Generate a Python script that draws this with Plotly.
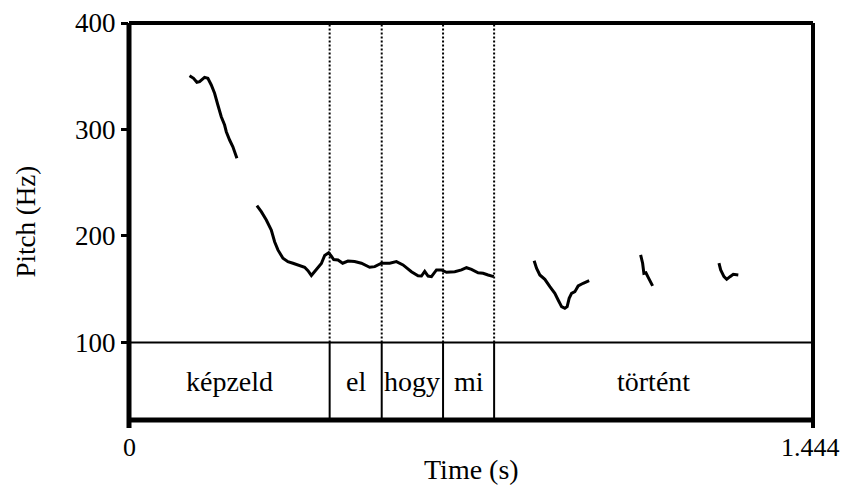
import plotly.graph_objects as go

# ---- pitch contour (time in s, pitch in Hz) ----
seg1_t = [0.1278, 0.1363, 0.1433, 0.1490, 0.1595, 0.1665, 0.1737, 0.1807, 0.1876, 0.1948, 0.2018, 0.2054, 0.2124, 0.2193, 0.2278]
seg1_f = [350.5, 348.1, 344.3, 344.9, 349.0, 348.1, 341.8, 334.0, 323.0, 312.0, 304.2, 297.9, 290.1, 283.8, 272.9]

seg2_t = [0.2700, 0.2793, 0.2899, 0.3004, 0.3074, 0.3144, 0.3250, 0.3355, 0.3461, 0.3602, 0.3708, 0.3778,
          0.3850, 0.3955, 0.4061, 0.4131, 0.4215, 0.4268, 0.4321, 0.4412, 0.4511, 0.4623, 0.4764, 0.4906,
          0.4997, 0.5081, 0.5187, 0.5329, 0.5504, 0.5645, 0.5785, 0.5962, 0.6102, 0.6174, 0.6243, 0.6313,
          0.6385, 0.6491, 0.6596, 0.6702, 0.6877, 0.7019, 0.7125, 0.7230, 0.7370, 0.7475, 0.7581, 0.7701]
seg2_f = [228.5, 222.8, 215.0, 205.6, 194.6, 186.9, 179.1, 175.9, 174.4, 171.8, 170.6, 167.4,
          162.9, 168.5, 174.2, 181.7, 184.3, 181.2, 177.9, 177.5, 174.4, 176.5, 176.1, 174.4,
          172.3, 170.6, 171.2, 174.4, 174.4, 175.9, 172.8, 166.5, 162.7, 162.4, 166.7, 162.4,
          161.8, 168.1, 168.1, 165.9, 166.5, 168.1, 170.2, 168.7, 165.5, 165.0, 163.4, 161.8]

seg3_t = [0.8553, 0.8603, 0.8673, 0.8779, 0.8885, 0.8990, 0.9060, 0.9132, 0.9201, 0.9250, 0.9292, 0.9343, 0.9413, 0.9482, 0.9588, 0.9715]
seg3_f = [176.8, 169.7, 163.4, 159.3, 152.4, 146.2, 139.9, 133.6, 132.1, 133.6, 141.5, 146.2, 147.7, 153.1, 155.6, 158.0]

seg4_t = [1.0801, 1.0843, 1.0870, 1.0913, 1.0961, 1.1012, 1.1054]
seg4_f = [182.2, 174.4, 165.0, 165.5, 161.2, 157.1, 153.1]

seg5_t = [1.2455, 1.2491, 1.2561, 1.2618, 1.2688, 1.2757, 1.2863]
seg5_f = [174.4, 168.1, 161.8, 159.3, 161.8, 164.0, 163.4]

# ---- text grid ----
words = ["képzeld", "el", "hogy", "mi", "történt"]
boundaries = [0.0, 0.4236, 0.5335, 0.6630, 0.7708, 1.444]

# ---- axes ----
t_max = 1.444
y_ticks = [100, 200, 300, 400]
x_ticks = [0, 1.444]
x_tick_labels = ["0", "1.444"]
y_min, y_max = 27.2, 400
grid_top = 100
label_pitch = 63.6

FONT = "Times New Roman, Liberation Serif, DejaVu Serif, serif"
FS = 28
FS_TICK = 27
FS_XTICK = 26
FS_TITLE = 27

fig = go.Figure()

segs = [(seg1_t, seg1_f), (seg2_t, seg2_f), (seg3_t, seg3_f), (seg4_t, seg4_f), (seg5_t, seg5_f)]
xs, ys = [], []
for t, f in segs:
    xs += t + [None]
    ys += f + [None]
fig.add_trace(go.Scatter(x=xs, y=ys, mode="lines", line=dict(color="black", width=3),
                         connectgaps=False, showlegend=False, hoverinfo="skip"))

shapes = []
for b in boundaries[1:-1]:
    shapes.append(dict(type="line", xref="x", yref="y", x0=b, x1=b, y0=grid_top, y1=y_max,
                       line=dict(color="black", width=2, dash="2px,2px")))
    shapes.append(dict(type="line", xref="x", yref="y", x0=b, x1=b, y0=y_min, y1=grid_top,
                       line=dict(color="black", width=2)))
shapes.append(dict(type="line", xref="x", yref="y", x0=0, x1=t_max, y0=grid_top, y1=grid_top,
                   line=dict(color="black", width=2)))
# frame (vertical sides extend below the box as the x tick marks)
tick_ext = -8 / 397
shapes.append(dict(type="line", xref="paper", yref="paper", x0=0, x1=1, y0=1, y1=1,
                   line=dict(color="black", width=4)))
shapes.append(dict(type="line", xref="paper", yref="paper", x0=1, x1=1, y0=tick_ext, y1=1,
                   line=dict(color="black", width=4)))
shapes.append(dict(type="line", xref="paper", yref="paper", x0=0, x1=1, y0=0, y1=0,
                   line=dict(color="black", width=5)))
shapes.append(dict(type="line", xref="paper", yref="paper", x0=0, x1=0, y0=tick_ext, y1=1,
                   line=dict(color="black", width=5)))

annotations = []
for i, w in enumerate(words):
    annotations.append(dict(x=(boundaries[i] + boundaries[i + 1]) / 2, y=label_pitch, xref="x", yref="y",
                            text=w, showarrow=False, font=dict(family=FONT, size=FS, color="black")))
# x tick labels
for xv, lab in zip(x_ticks, x_tick_labels):
    annotations.append(dict(x=xv, y=-0.07, xref="x", yref="paper", yanchor="middle", xanchor="center",
                            xshift=-3 if xv > 0 else 0, text=lab, showarrow=False,
                            font=dict(family=FONT, size=FS_XTICK, color="black")))
annotations.append(dict(x=0.5, y=-0.125, xref="paper", yref="paper", yanchor="middle",
                        text="Time (s)", showarrow=False, font=dict(family=FONT, size=FS, color="black")))
annotations.append(dict(x=-0.152, y=0.5, xref="paper", yref="paper", xanchor="center", yanchor="middle",
                        text="Pitch (Hz)", textangle=-90, showarrow=False,
                        font=dict(family=FONT, size=FS_TITLE, color="black")))

# the page body adds an 8px offset, so the figure is 8px smaller than the window
fig.update_layout(
    width=840, height=481,
    margin=dict(l=121, r=35, t=15, b=69, autoexpand=False),
    paper_bgcolor="white", plot_bgcolor="white",
    font=dict(family=FONT, size=FS, color="black"),
    shapes=shapes, annotations=annotations,
    xaxis=dict(range=[0, t_max], tickvals=x_ticks, showticklabels=False, ticks="",
               showgrid=False, zeroline=False, showline=False, automargin=False),
    yaxis=dict(range=[y_min, y_max], tickvals=y_ticks, ticks="outside", ticklen=7, tickwidth=3,
               tickcolor="black", showgrid=False, zeroline=False, showline=False, automargin=False,
               ticklabeloverflow="allow",
               tickfont=dict(family=FONT, size=FS_TICK, color="black")),
)

fig.write_html("out.html")
